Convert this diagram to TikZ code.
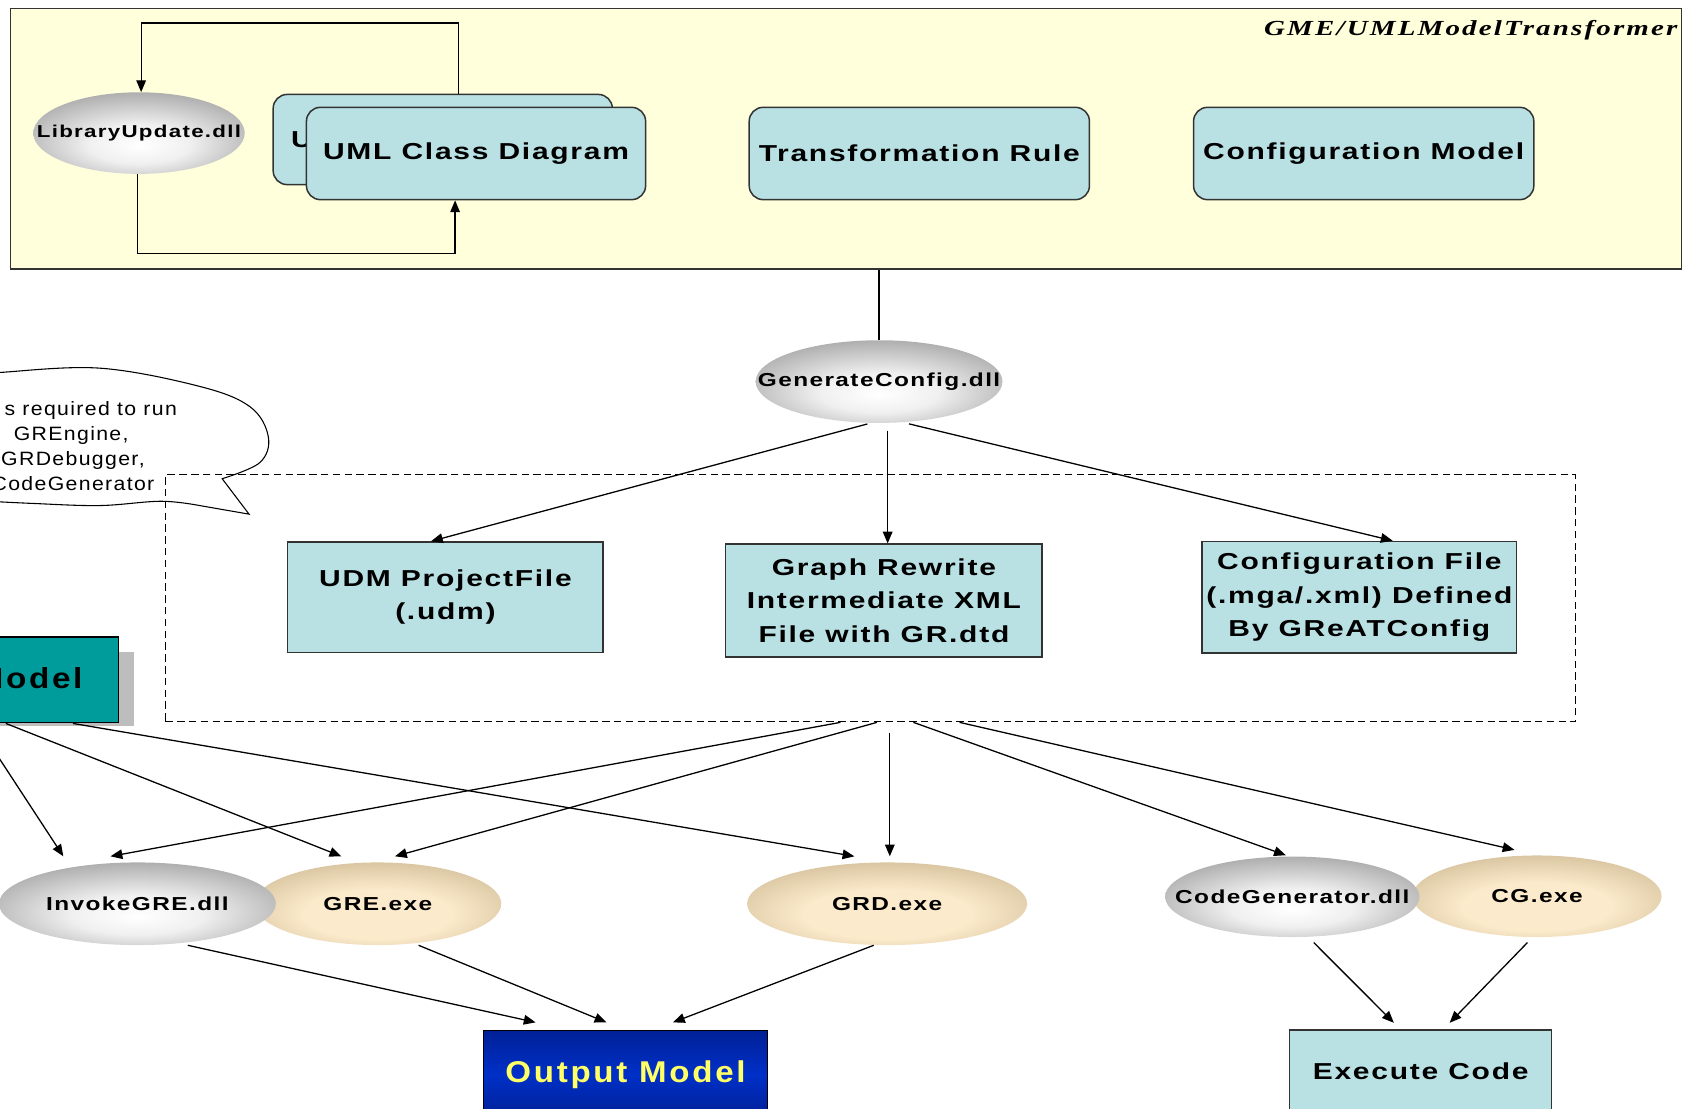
\documentclass[tikz,border=0pt]{standalone}
\usepackage{fontspec}
\setmainfont{Liberation Sans}
\newfontfamily\lblfont[FakeStretch=1.3,LetterSpace=7.5]{Liberation Sans}
\newfontfamily\notefont[FakeStretch=1.1,LetterSpace=7]{Liberation Sans}
\newfontfamily\bigfont[FakeStretch=1.1,LetterSpace=9]{Liberation Sans}
\newfontfamily\modelfont[FakeStretch=1.15,LetterSpace=9]{Liberation Sans}
\newfontfamily\titlefont[FakeStretch=1.35,LetterSpace=10]{Liberation Serif}
\usetikzlibrary{shapes.geometric,arrows.meta}

\definecolor{paleyellow}{HTML}{FFFFDC}
\definecolor{boxblue}{HTML}{B9E1E4}
\definecolor{tealbox}{HTML}{009C9C}
\definecolor{navyd}{HTML}{001064}
\definecolor{navyb}{HTML}{0030C8}
\definecolor{outyellow}{HTML}{FFFF66}
\definecolor{edgegray}{HTML}{333333}
\definecolor{tanedge}{HTML}{BBA47A}
\definecolor{tancenter}{HTML}{FBEACB}
\definecolor{shadowgray}{HTML}{BDBDBD}

% soft glossy fills for the component ellipses and the output box
\pgfdeclareradialshading{grayglow}{\pgfpoint{0bp}{-8bp}}{color(0bp)=(white); color(12bp)=(white!94!black); color(32bp)=(black!35); color(50bp)=(black!62); color(70bp)=(black!62)}
\pgfdeclareradialshading{tanglow}{\pgfpoint{0bp}{-8bp}}{color(0bp)=(tancenter); color(15bp)=(tancenter); color(35bp)=(tanedge!70!tancenter); color(50bp)=(tanedge); color(70bp)=(tanedge)}
\pgfdeclareverticalshading{navyglow}{100bp}{color(0bp)=(navyd); color(50bp)=(navyb); color(100bp)=(navyd)}

\tikzset{
  arr/.style={-{Triangle[length=11pt,width=9pt]}, line width=1.2pt, black},
  rbox/.style={draw=edgegray, line width=1.4pt, fill=boxblue, rounded corners=13pt,
    inner sep=0pt, font={\lblfont\bfseries\fontsize{21.5}{31}\selectfont}},
  sbox/.style={draw=edgegray, line width=1.4pt, fill=boxblue, inner sep=0pt, align=center,
    font={\lblfont\bfseries\fontsize{21.5}{31}\selectfont}},
  grayell/.style={ellipse, shading=grayglow, inner sep=0pt,
    font={\lblfont\bfseries\fontsize{17.5}{22}\selectfont}},
  tanell/.style={ellipse, shading=tanglow, inner sep=0pt,
    font={\lblfont\bfseries\fontsize{17.5}{22}\selectfont}},
  note/.style={anchor=base east, inner sep=0pt, font={\notefont\fontsize{18}{22}\selectfont}},
}
% a label that does not widen the ellipse around it
\newcommand{\ctext}[1]{\makebox[0pt]{#1}}

\begin{document}
\begin{tikzpicture}[x=1pt,y=-1pt]
\useasboundingbox (0,0) rectangle (1568,1033);
\clip (0,0) rectangle (1568,1033);

% ---- transformer model frame ----
\node[draw=edgegray, line width=1.4pt, fill=paleyellow, minimum width=1557pt, minimum height=243pt,
      inner sep=0pt, anchor=north west] (frame) at (9,7) {};
\node[anchor=base east, inner sep=0pt, font={\titlefont\bfseries\itshape\fontsize{20}{24}\selectfont}]
      (title) at (1563,33) {GME/UMLModelTransformer};

\node[grayell, minimum width=197pt, minimum height=76pt,
      font={\lblfont\bfseries\fontsize{16}{20}\selectfont}] (lib) at (129.5,124) {\ctext{LibraryUpdate.dll}};

\node[rbox, minimum width=316pt, minimum height=84pt] (umlback) at (412.5,130) {};
\node[anchor=base west, inner sep=0pt, font={\lblfont\bfseries\fontsize{21.5}{31}\selectfont}]
      (umlbacktext) at (271,137) {U};
\node[rbox, minimum width=316pt, minimum height=86pt] (uml) at (443.5,143) {UML Class Diagram};

\draw[arr] ([xshift=14.5pt]umlback.north) -- ++(0,-66) -| ([xshift=2pt]lib.north);
\draw[arr] ([xshift=-1.5pt]lib.south) -- ++(0,74) -| ([xshift=-19.5pt]uml.south);

\node[rbox, minimum width=317pt, minimum height=86pt] (rule) at (856.5,143) {Transformation Rule};
\node[rbox, minimum width=317pt, minimum height=86pt] (cfgmodel) at (1270.5,143) {Configuration Model};

% ---- configuration generator ----
\node[grayell, minimum width=230pt, minimum height=77pt] (gen) at (819,355.5) {\ctext{GenerateConfig.dll}};
\draw[line width=1.2pt] (gen.north |- frame.south) -- (gen.north);

% speech bubble
\draw[line width=1pt, fill=white]
  plot[smooth, tension=0.6] coordinates {(-30,466) (30,469) (93,471) (150,467) (186,471)}
  -- (232,479)
  -- plot[smooth, tension=0.6] coordinates {(207,446) (242,431) (250,407) (233,379) (186,360) (93,343) (0,347) (-30,350)}
  -- cycle;
\node[note] (n1) at (165,387) {s required to run};
\node[note] (n2) at (120,410) {GREngine,};
\node[note] (n3) at (135,434) {GRDebugger,};
\node[note] (n4) at (144,457) {CodeGenerator};

% generated artefacts
\node[draw, dash pattern=on 7pt off 4pt, line width=1pt, minimum width=1314pt,
      minimum height=230pt, inner sep=0pt] (area) at (811,557.5) {};

\node[sbox, minimum width=294pt, minimum height=103pt] (udm) at (415,556.5) {UDM ProjectFile\\(.udm)};
\node[sbox, minimum width=295pt, minimum height=105pt] (grw) at (823.5,559.5) {Graph Rewrite\\Intermediate XML\\File with GR.dtd};
\node[sbox, minimum width=293pt, minimum height=104pt] (cfgfile) at (1266.5,556.5) {Configuration File\\(.mga/.xml) Defined\\By GReATConfig};

\draw[arr, shorten <=3pt] ([xshift=-8pt]gen.south) -- ([xshift=-13.5pt]udm.north);
\draw[arr, shorten <=7pt] ([xshift=8pt]gen.south) -- ([xshift=3.5pt]grw.north);
\draw[arr, shorten <=3pt] ([xshift=25pt]gen.south) -- ([xshift=31pt]cfgfile.north);

% ---- input model ----
\node[fill=shadowgray, minimum width=265pt, minimum height=69pt, inner sep=0pt, anchor=north west]
      (modelshadow) at (-140,607) {};
\node[draw=black, line width=1pt, fill=tealbox, minimum width=261pt, minimum height=80pt,
      inner sep=0pt, anchor=north east] (model) at (111,593) {};
\node[anchor=base east, inner sep=0pt, font={\modelfont\bfseries\fontsize{27}{30}\selectfont}]
      (modeltext) at (77,641) {Model};

% ---- executables ----
\node[tanell, minimum width=230pt, minimum height=77pt] (gre) at (352,842) {\ctext{GRE.exe}};
\node[grayell, minimum width=258pt, minimum height=77pt] (invoke) at (128,842) {\ctext{InvokeGRE.dll}};
\node[tanell, minimum width=261pt, minimum height=77pt] (grd) at (826.5,842) {\ctext{GRD.exe}};
\node[tanell, minimum width=232pt, minimum height=76pt] (cgexe) at (1432,835) {\ctext{CG.exe}};
\node[grayell, minimum width=237pt, minimum height=75pt] (cgdll) at (1204,835.5) {\ctext{CodeGenerator.dll}};

\draw[arr] ([xshift=-2pt]model.south) -- ([xshift=-69pt,yshift=5.5pt]invoke.north);
\draw[arr] ([xshift=25.5pt]model.south) -- ([xshift=-34pt,yshift=5.5pt]gre.north);
\draw[arr] ([xshift=88pt]model.south) -- ([xshift=-30.5pt,yshift=5.5pt]grd.north);

\draw[arr] ([xshift=-28pt]area.south) -- ([xshift=-25pt,yshift=5.5pt]invoke.north);
\draw[arr] ([xshift=6pt]area.south) -- ([xshift=16pt,yshift=5.5pt]gre.north);
\draw[arr, shorten <=9.5pt] ([xshift=18pt]area.south) -- ([xshift=2.5pt,yshift=5.5pt]grd.north);
\draw[arr] ([xshift=40pt]area.south) -- ([xshift=-6pt,yshift=1pt]cgdll.north);
\draw[arr] ([xshift=83pt]area.south) -- ([xshift=-21pt,yshift=5pt]cgexe.north);

% ---- results ----
\node[draw=black, line width=1pt, shading=navyglow, minimum width=264pt, minimum height=82pt,
      inner sep=0pt, text=outyellow, font={\bigfont\bfseries\fontsize{28}{32}\selectfont}]
      (output) at (582.75,1001) {Output Model};
\node[draw=edgegray, line width=1.4pt, fill=boxblue, minimum width=244pt, minimum height=76pt,
      inner sep=0pt, font={\lblfont\bfseries\fontsize{21.5}{31}\selectfont}] (exec) at (1323.6,997.6) {Execute Code};

\draw[arr] ([xshift=47pt]invoke.south) -- ([xshift=-83.75pt,yshift=7pt]output.north);
\draw[arr] ([xshift=38pt]gre.south) -- ([xshift=-17.75pt,yshift=7pt]output.north);
\draw[arr] ([xshift=-12.5pt]grd.south) -- ([xshift=44.25pt,yshift=7pt]output.north);

\draw[arr] ([xshift=20pt,yshift=-5pt]cgdll.south) -- ([xshift=-25pt,yshift=6pt]exec.north);
\draw[arr] ([xshift=-9pt,yshift=-5pt]cgexe.south) -- ([xshift=27pt,yshift=6pt]exec.north);
\end{tikzpicture}
\end{document}
